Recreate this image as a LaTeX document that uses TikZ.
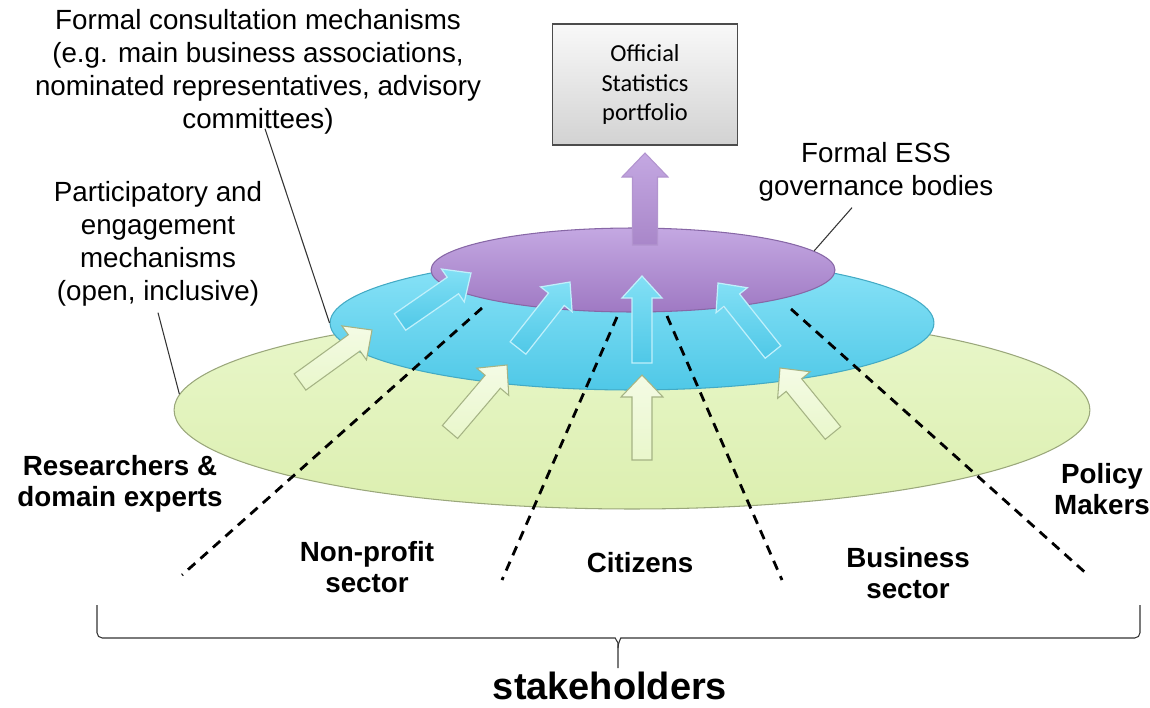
\documentclass[tikz,border=0pt]{standalone}
\usepackage{fontspec}
\setmainfont{Liberation Sans}
\newfontfamily\boxfont{Carlito}
\usetikzlibrary{calc,shapes.geometric}

\definecolor{lilactop}{HTML}{C4A8E2}
\definecolor{lilacbot}{HTML}{9F79C3}
\definecolor{skytop}{HTML}{8CE4F8}
\definecolor{skybot}{HTML}{4FC8E7}
\definecolor{olivetop}{HTML}{E9F7CB}
\definecolor{olivebot}{HTML}{DCEFB0}

\tikzstyle{layer} = [ellipse, inner sep=0pt, line width=0.6pt]
\tikzstyle{govlayer} = [layer, draw=lilacbot!85!black, top color=lilactop, bottom color=lilacbot]
\tikzstyle{formallayer} = [layer, draw=skybot!85!black, top color=skytop, bottom color=skybot]
\tikzstyle{openlayer} = [layer, draw=olivebot!70!black, top color=olivetop, bottom color=olivebot]
\tikzstyle{portfolio} = [rectangle, minimum width=3.7cm, minimum height=2.42cm, align=center, draw=black!70, line width=0.8pt, top color=gray!5, bottom color=gray!35, font=\boxfont\fontsize{13.9}{17}\selectfont]
\tikzstyle{label} = [align=center, font=\fontsize{15.8}{18.8}\selectfont]
\tikzstyle{group} = [align=center, font=\fontsize{15.8}{17.5}\selectfont\bfseries]
\tikzstyle{pointer} = [draw=black!80, line width=0.6pt]
\tikzstyle{divider} = [line width=1.6pt, dash pattern=on 5.5pt off 4pt]
\tikzstyle{greenarrow} = [draw=olivebot!75!black, line width=0.6pt, top color=olivetop!50!white, bottom color=olivetop]
\tikzstyle{bluearrow} = [draw=skytop!55!white, line width=0.7pt, top color=skytop!85!skybot, bottom color=skybot]
\tikzstyle{purplearrow} = [draw=lilacbot!80!white, line width=0.6pt, top color=lilactop, bottom color=lilacbot!90!white]

% style, tail, tip, half shaft, half head, head length
\newcommand{\blockarrow}[6]{
  \coordinate (ab) at ($(#3)!#6!(#2)$);
  \draw[#1] ($(#2)!#4!90:(#3)$) -- ($(ab)!#4!-90:(#2)$) -- ($(ab)!#5!-90:(#2)$) -- (#3)
    -- ($(ab)!#5!90:(#2)$) -- ($(ab)!#4!90:(#2)$) -- ($(#2)!#4!-90:(#3)$) -- cycle;
}

\begin{document}
\begin{tikzpicture}[x=0.02cm, y=-0.02cm]
\useasboundingbox (0,0) rectangle (1150,707);

\node (green) [openlayer, minimum width=18.32cm, minimum height=3.96cm] at (632,410) {};
\node (cyan) [formallayer, minimum width=12.08cm, minimum height=2.68cm] at (632,323) {};

\blockarrow{greenarrow}{300,382}{372,330}{0.2cm}{0.42cm}{0.44cm}
\blockarrow{greenarrow}{450,432}{507,365}{0.2cm}{0.42cm}{0.44cm}
\blockarrow{greenarrow}{642,460}{642,375}{0.2cm}{0.42cm}{0.44cm}
\blockarrow{greenarrow}{833,433}{780,368}{0.2cm}{0.42cm}{0.44cm}

\node (purple) [govlayer, minimum width=8.08cm, minimum height=1.68cm] at (633,270) {};

\blockarrow{bluearrow}{400,322}{471,273}{0.2cm}{0.4cm}{0.44cm}
\blockarrow{bluearrow}{518,348}{570,282}{0.2cm}{0.4cm}{0.44cm}
\blockarrow{bluearrow}{642,363}{642,276}{0.2cm}{0.4cm}{0.44cm}
\blockarrow{bluearrow}{773,352}{718,283}{0.2cm}{0.4cm}{0.44cm}

\node (osp) [portfolio] at (645,84.5) {Official\\Statistics\\portfolio};
\blockarrow{purplearrow}{645,245}{645,153}{0.25cm}{0.46cm}{0.48cm}

% sector boundaries
\coordinate (d1a) at (482,308); \coordinate (d1b) at (182,575);
\coordinate (d2a) at (617,317); \coordinate (d2b) at (502,580);
\coordinate (d3a) at (667,316); \coordinate (d3b) at (782,580);
\coordinate (d4a) at (791,309); \coordinate (d4b) at (1088,575);
\draw [divider] (d1a) -- (d1b);
\draw [divider] (d2a) -- (d2b);
\draw [divider] (d3a) -- (d3b);
\draw [divider] (d4a) -- (d4b);

\node (fcm) [label] at (258,72) {Formal consultation mechanisms\\(e.g. main business associations,\\nominated representatives, advisory\\committees)};
\node (pem) [label] at (158,244) {Participatory and\\engagement\\mechanisms\\(open, inclusive)};
\node (ess) [label] at (876,172) {Formal ESS\\governance bodies};
\draw [pointer] ($(fcm.south)+(7,-12)$) -- (cyan.west);
\draw [pointer] (pem.south) -- (green.178);
\draw [pointer] ($(ess.south)+(-24,0)$) -- (purple.6);

\node (res) [group] at (120,484) {Researchers \&\\domain experts};
\node (npo) [group] at (367,567) {Non-profit\\sector};
\node (cit) [group] at (640,563) {Citizens};
\node (bus) [group] at (908,573) {Business\\sector};
\node (pol) [group] at (1102,489) {Policy\\Makers};

\coordinate (bl) at (97,605);
\coordinate (br) at (1140,605);
\coordinate (btip) at (618,668);
\draw [pointer, rounded corners=3pt] (bl) |- (610,638) to[out=0,in=90] (btip |- 0,648) -- (btip);
\draw [pointer, rounded corners=3pt] (br) |- (626,638) to[out=180,in=90] (btip |- 0,648);
\node (stk) [inner sep=1pt, font=\fontsize{21.6}{24}\selectfont\bfseries] at (610,686) {stakeholders};

\end{tikzpicture}
\end{document}
